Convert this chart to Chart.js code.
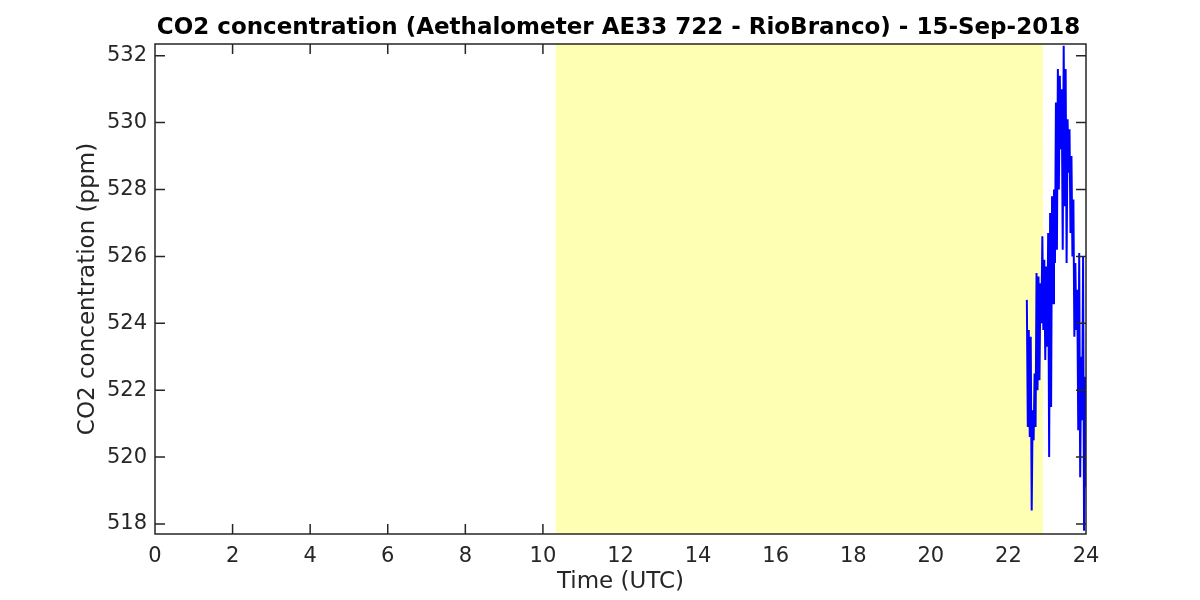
<!DOCTYPE html>
<html>
<head>
<meta charset="utf-8">
<script src="https://cdn.jsdelivr.net/npm/chart.js@4"></script>
<style>
  body { margin: 0; background: #fff; }
  #wrap { width: 1200px; height: 600px; }
</style>
</head>
<body>
<div id="wrap"><canvas id="myChart" width="1200" height="600"></canvas></div>
<script>
// time of each sample (hours UTC)
const times = [
  22.475, 22.500, 22.525, 22.550, 22.575, 22.600, 22.625, 22.650, 22.675, 22.700,
  22.725, 22.750, 22.775, 22.800, 22.825, 22.850, 22.875, 22.900, 22.925, 22.950,
  22.975, 23.000, 23.025, 23.050, 23.075, 23.100, 23.125, 23.150, 23.175, 23.200,
  23.225, 23.250, 23.275, 23.300, 23.325, 23.350, 23.375, 23.400, 23.425, 23.450,
  23.475, 23.500, 23.525, 23.550, 23.575, 23.600, 23.625, 23.650, 23.675, 23.700,
  23.725, 23.750, 23.775, 23.800, 23.825, 23.850, 23.875, 23.900, 23.925, 23.950,
  23.975, 24.000
];
// CO2 concentration (ppm)
const co2 = [
  524.7, 520.9, 523.8, 520.6, 523.6, 518.4, 521.4, 520.5, 522.5, 520.9,
  525.5, 522.0, 525.4, 522.3, 525.2, 524.0, 526.6, 523.8, 525.9, 522.9,
  525.7, 523.3, 526.7, 520.0, 527.3, 521.5, 527.8, 524.6, 528.0, 525.8,
  530.6, 526.2, 531.6, 528.0, 531.4, 529.2, 531.0, 526.2, 532.3, 527.5,
  531.6, 525.8, 530.1, 528.5, 529.8, 526.7, 529.0, 526.0, 527.7, 523.6,
  525.8, 523.8, 525.0, 520.8, 526.1, 519.4, 523.0, 521.1, 526.0, 517.8,
  522.4, 519.1
];
// shaded (daylight) period, hours
const shadeStart = 10.33;
const shadeEnd = 22.89;

const xTicks = [0, 2, 4, 6, 8, 10, 12, 14, 16, 18, 20, 22, 24];
const yTicks = [518, 520, 522, 524, 526, 528, 530, 532];

const titleText = "CO2 concentration (Aethalometer AE33 722 - RioBranco) - 15-Sep-2018";
const fontFam = "'DejaVu Sans', sans-serif";
const axColor = "#262626";

// yellow band behind the data
const shadePlugin = {
  id: "shade",
  beforeDatasetsDraw(chart) {
    const ctx = chart.ctx, a = chart.chartArea, xs = chart.scales.x;
    const x1 = xs.getPixelForValue(shadeStart), x2 = xs.getPixelForValue(shadeEnd);
    ctx.save();
    ctx.fillStyle = "rgb(255,255,180)";
    ctx.fillRect(x1, a.top, x2 - x1, a.bottom - a.top);
    ctx.restore();
  }
};

// matlab style box with inward ticks, plus the title
const boxPlugin = {
  id: "box",
  afterDatasetsDraw(chart) {
    const ctx = chart.ctx, a = chart.chartArea;
    const xs = chart.scales.x, ys = chart.scales.y;
    ctx.save();
    ctx.strokeStyle = axColor;
    ctx.lineWidth = 1.5;
    ctx.beginPath();
    ctx.rect(a.left, a.top, a.right - a.left, a.bottom - a.top);
    const tl = 10;
    xTicks.forEach(v => {
      if (v > shadeStart && v < shadeEnd) return; // hidden under the patch
      const px = xs.getPixelForValue(v);
      ctx.moveTo(px, a.bottom); ctx.lineTo(px, a.bottom - tl);
      ctx.moveTo(px, a.top); ctx.lineTo(px, a.top + tl);
    });
    yTicks.forEach(v => {
      const py = ys.getPixelForValue(v);
      ctx.moveTo(a.left, py); ctx.lineTo(a.left + tl, py);
      ctx.moveTo(a.right, py); ctx.lineTo(a.right - tl, py);
    });
    ctx.stroke();
    ctx.fillStyle = "#000";
    ctx.font = "bold 23px " + fontFam;
    ctx.textAlign = "center";
    ctx.textBaseline = "middle";
    ctx.fillText(titleText, (a.left + a.right) / 2 - 2, 28);
    ctx.restore();
  }
};

const pts = times.map((t, i) => ({ x: t, y: co2[i] }));

const config = {
  type: "line",
  data: {
    datasets: [{
      data: pts,
      borderColor: "#0000ff",
      borderWidth: 2,
      pointRadius: 0,
      tension: 0,
      fill: false
    }]
  },
  options: {
    responsive: false,
    animation: false,
    layout: { padding: { top: 44, right: 114, bottom: 0, left: 0 } },
    plugins: { legend: { display: false }, tooltip: { enabled: false }, title: { display: false } },
    scales: {
      x: {
        type: "linear",
        min: 0, max: 24,
        afterBuildTicks: s => { s.ticks = xTicks.map(v => ({ value: v })); },
        afterFit: s => { s.height = 66; },
        grid: { display: false, drawTicks: false },
        border: { display: false },
        ticks: { color: axColor, font: { family: fontFam, size: 21 }, padding: 10, maxRotation: 0 },
        title: { display: true, text: "Time (UTC)", color: axColor, font: { family: fontFam, size: 23 }, padding: { top: 4, bottom: 4 } }
      },
      y: {
        type: "linear",
        min: 517.7, max: 532.35,
        afterBuildTicks: s => { s.ticks = yTicks.map(v => ({ value: v })); },
        afterFit: s => { s.width = 155; },
        grid: { display: false, drawTicks: false },
        border: { display: false },
        ticks: { color: axColor, font: { family: fontFam, size: 21 }, padding: 8 },
        title: { display: true, text: "CO2 concentration (ppm)", color: axColor, font: { family: fontFam, size: 23 }, padding: { top: 74, bottom: 0 } }
      }
    }
  },
  plugins: [shadePlugin, boxPlugin]
};

const myChart = new Chart(document.getElementById("myChart"), config);
</script>
</body>
</html>
